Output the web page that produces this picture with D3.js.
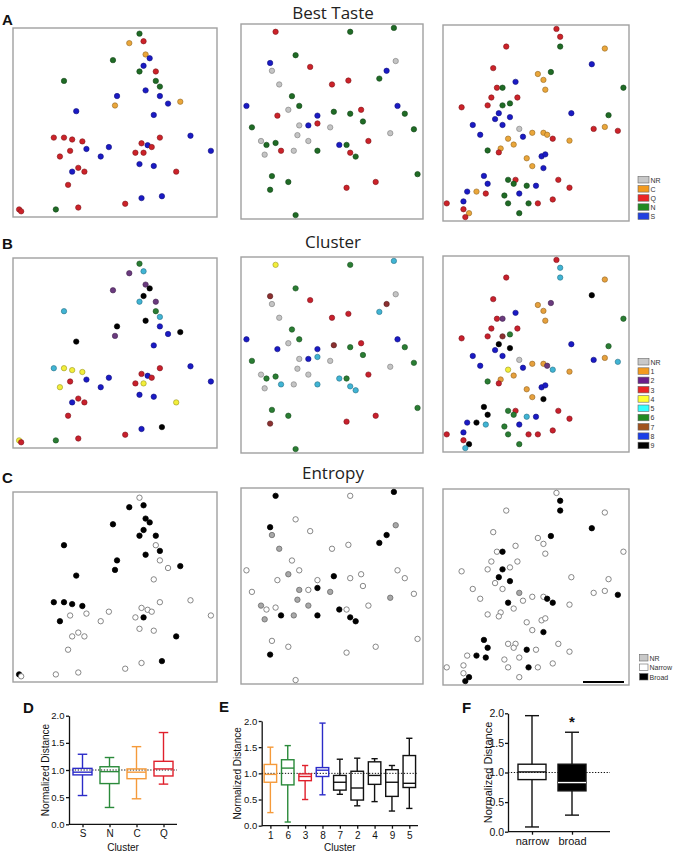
<!DOCTYPE html>
<html><head><meta charset="utf-8">
<script src="https://cdn.jsdelivr.net/npm/d3@7"></script>
<style>body{margin:0;background:#fff;} svg{display:block;font-family:Arial,"Liberation Sans",sans-serif;}</style>
</head><body><svg id="c" width="674" height="853"></svg>
<script>
// ---------- categories ----------
const tasteCats = ["NR","C","Q","N","S"];
const clusterCats = ["NR","1","2","3","4","5","6","7","8","9"];
const entropyCats = ["NR","Narrow","Broad"];
const rowTitles = ["Best Taste","Cluster","Entropy"];

// ---------- column 1 points (arbitrary MDS units, 0-100) ----------
const col1X = [62,57,64,65,67,49,64,62,70,25,70,72,65,51,72,82,76,50,31,69,20,25,29,34,72,87,63,66,68,36,47,28,23,60,64,43,97,62,69,32,29,35,80,27,73,63,55,32,21,3,4];
const col1Y = [97,92,93,86,84,83,80,77,77,72,72,69,67,64,64,61,60,59,56,54,42,42,41,40,42,43,39,38,37,36,37,35,32,34,34,32,35,28,27,26,24,24,24,17,11,10,7,5,4,4,3];
const col1Taste = ["N","C","Q","C","S","N","S","N","Q","N","N","N","S","S","S","C","S","C","S","S","Q","Q","Q","Q","Q","S","Q","S","Q","S","S","Q","Q","Q","Q","S","S","S","S","Q","S","Q","Q","Q","S","S","Q","Q","N","Q","Q"];
const col1Cluster = ["6","2","5","2","9","2","9","5","2","5","6","5","9","9","8","9","8","2","9","8","5","4","4","4","3","8","3","8","3","8","8","3","4","3","4","8","8","8","8","3","8","3","4","3","9","8","3","3","6","4","3"];
const col1Entropy = ["Narrow","Broad","Broad","Broad","Broad","Broad","Broad","Broad","Broad","Broad","Narrow","Broad","Broad","Broad","Narrow","Broad","Narrow","Broad","Broad","Narrow","Broad","Broad","Broad","Broad","Narrow","Narrow","Narrow","Narrow","Narrow","Narrow","Narrow","Narrow","Broad","Narrow","Broad","Narrow","Narrow","Narrow","Narrow","Narrow","Narrow","Narrow","Broad","Narrow","Broad","Narrow","Narrow","Narrow","Narrow","Broad","Narrow"];

// ---------- column 2 points ----------
const col2X = [19,60,84,30,16,85,17,38,80,21,50,59,76,28,3,26,32,42,51,66,86,60,20,90,67,6,32,37,42,49,95,82,31,11,14,19,37,54,58,70,22,29,42,60,63,13,17,97,26,74,58,16,30];
const col2Y = [96,96,98,84,80,81,76,78,76,69,69,71,72,63,58,56,58,53,55,56,58,54,53,54,50,47,48,48,49,47,46,44,43,40,38,39,40,38,38,40,35,35,35,34,32,33,22,23,19,19,16,15,2];
const col2Taste = ["Q","N","N","N","S","NR","NR","Q","S","NR","Q","Q","N","N","S","NR","N","S","N","Q","S","N","Q","N","N","N","NR","S","Q","NR","N","NR","NR","NR","N","N","NR","S","N","Q","Q","NR","N","Q","N","NR","N","N","N","Q","Q","N","N"];
const col2Cluster = ["4","6","5","6","7","NR","NR","3","7","NR","3","3","5","6","8","NR","6","8","7","3","8","6","8","6","6","6","NR","8","5","NR","6","NR","NR","NR","6","6","NR","5","6","3","5","NR","5","5","5","NR","6","6","6","3","3","7","6"];
const col2Entropy = ["Broad","Narrow","Broad","Narrow","Broad","NR","NR","Narrow","Broad","NR","Narrow","Narrow","Broad","Narrow","Narrow","NR","Narrow","Narrow","Broad","Narrow","Narrow","Narrow","Narrow","Narrow","Narrow","Narrow","NR","Narrow","Broad","NR","Narrow","NR","NR","NR","Narrow","Narrow","NR","Broad","Narrow","Narrow","Broad","NR","Broad","Broad","Broad","NR","Narrow","Narrow","Narrow","Narrow","Narrow","Broad","Narrow"];

// ---------- column 3 points ----------
const col3X = [61,63,34,63,87,80,27,58,51,54,39,29,32,55,97,26,40,24,32,36,10,30,28,36,69,89,16,32,41,81,87,94,20,48,54,56,43,35,59,38,68,31,30,24,45,53,55,48,54,22,62,35,39,38,24,45,50,68,13,18,23,41,33,35,46,51,59,11,2,11,14,12,41];
const col3Y = [98,94,89,89,88,80,78,76,75,72,71,68,68,67,68,63,63,59,59,60,58,55,52,53,55,54,49,49,47,47,48,46,44,45,45,44,43,42,42,39,41,37,35,36,32,33,34,28,27,23,21,21,21,19,19,18,18,17,15,15,14,14,13,9,9,9,11,10,9,6,4,2,4];
const col3Taste = ["Q","Q","Q","N","C","S","Q","N","C","C","S","Q","N","C","N","Q","Q","Q","N","N","Q","S","S","S","S","N","S","S","NR","Q","C","Q","S","C","C","C","S","C","Q","C","C","C","Q","N","C","S","S","C","S","S","Q","N","Q","N","S","N","S","Q","S","C","Q","S","N","N","N","Q","Q","S","Q","Q","C","Q","N"];
const col3Cluster = ["3","5","3","5","1","9","3","2","1","1","8","3","2","1","6","3","3","3","7","6","3","9","8","9","8","6","8","8","NR","8","1","5","8","1","1","2","8","4","5","1","1","1","3","6","1","8","8","1","9","9","3","6","3","6","9","5","8","3","8","9","5","8","6","6","3","3","3","8","3","3","9","5","6"];
const col3Entropy = ["Narrow","Broad","Narrow","Broad","Narrow","Broad","Narrow","Broad","Narrow","Narrow","Narrow","Narrow","Broad","Narrow","Narrow","Narrow","Narrow","Narrow","Broad","Narrow","Narrow","Broad","Narrow","Broad","Narrow","Narrow","Narrow","Narrow","NR","Narrow","Narrow","Broad","Narrow","Narrow","Narrow","Broad","Narrow","Broad","Broad","Narrow","Narrow","Narrow","Narrow","Narrow","Narrow","Narrow","Narrow","Narrow","Broad","Broad","Narrow","Narrow","Narrow","Narrow","Broad","Broad","Narrow","Narrow","Narrow","Broad","Broad","Narrow","Narrow","Narrow","Broad","Narrow","Narrow","Narrow","Narrow","Narrow","Broad","Broad","Narrow"];

// ---------- box plots ----------
const dCats = ["S","N","C","Q"];
const dMin = [0.53,0.31,0.47,0.74];
const dQ1  = [0.91,0.75,0.84,0.89];
const dMed = [0.96,0.97,0.96,1.02];
const dQ3  = [1.03,1.06,1.02,1.16];
const dMax = [1.29,1.23,1.43,1.69];

const eCats = ["1","6","3","8","7","2","4","9","5"];
const eMin = [0.25,0.07,0.50,0.59,0.60,0.38,0.46,0.28,0.33];
const eQ1  = [0.83,0.78,0.86,0.94,0.68,0.49,0.79,0.56,0.73];
const eMed = [0.98,1.10,0.94,1.06,0.83,0.72,0.96,0.83,0.81];
const eQ3  = [1.17,1.26,0.99,1.11,0.96,1.04,1.22,1.07,1.34];
const eMax = [1.50,1.53,1.15,1.96,1.27,1.29,1.28,1.15,1.67];

const fCats = ["narrow","broad"];
const fMin = [0.08,0.28];
const fQ1  = [0.88,0.69];
const fMed = [1.01,0.83];
const fQ3  = [1.14,1.14];
const fMax = [1.96,1.68];

const yTicks = [0,0.5,1,1.5,2];

// ---------- colours ----------
const tastePoint = d3.scaleOrdinal().domain(tasteCats).range(["#c4c4c4","#eaa63a","#cc2229","#1f6b25","#1a1ac4"]);
const tasteLegend = d3.scaleOrdinal().domain(tasteCats).range(["#c8c8c8","#f39a1e","#ea2525","#1f8a22","#2040e0"]);
const clusterPoint = d3.scaleOrdinal().domain(clusterCats).range(["#c4c4c4","#e6a03c","#6a3a7e","#c8202c","#f2ee3a","#40b4d4","#2a7d33","#8b3030","#1a1ac4","#000000"]);
const clusterLegend = d3.scaleOrdinal().domain(clusterCats).range(["#c8c8c8","#f39a1e","#6a1f8a","#ea2525","#ffff33","#33ffff","#1f8a22","#a0521e","#1a3ee8","#000000"]);
const entFill = d3.scaleOrdinal().domain(entropyCats).range(["#a8a8a8","#ffffff","#000000"]);
const entLegend = d3.scaleOrdinal().domain(entropyCats).range(["#c8c8c8","#ffffff","#000000"]);
const dColors = ["#2b2bc8","#2a8a3a","#f59a3a","#e0202c"];
const eColors = ["#f59a3a","#2a8a3a","#e0202c","#2b2bc8","#111","#111","#111","#111","#111"];

const svg = d3.select("#c");

// ---------- scatter panels ----------
const cols = [
  {x:col1X,y:col1Y,cat:[col1Taste,col1Cluster,col1Entropy],xr:[13,217],yr:[[28,217],[258,448],[492,682]]},
  {x:col2X,y:col2Y,cat:[col2Taste,col2Cluster,col2Entropy],xr:[241,423],yr:[[24,219],[257,453],[488,684]]},
  {x:col3X,y:col3Y,cat:[col3Taste,col3Cluster,col3Entropy],xr:[443,629],yr:[[25,221],[256,452],[489,685]]}
];
const pointFill = [tastePoint, clusterPoint, entFill];

cols.forEach((c,ci)=>{
  c.yr.forEach((yr,ri)=>{
    const sx = d3.scaleLinear().domain([0,100]).range([c.xr[0],c.xr[1]]);
    const sy = d3.scaleLinear().domain([0,100]).range([yr[1],yr[0]]);
    const g = svg.append("g");
    g.append("rect").attr("x",c.xr[0]).attr("y",yr[0]).attr("width",c.xr[1]-c.xr[0]).attr("height",yr[1]-yr[0])
      .attr("fill","#fff").attr("stroke","#a0a0a0").attr("stroke-width",1.4);
    const data = c.x.map((v,i)=>({x:v,y:c.y[i],k:c.cat[ri][i]}));
    g.selectAll("circle").data(data).join("circle")
      .attr("cx",d=>sx(d.x)).attr("cy",d=>sy(d.y)).attr("r",2.7)
      .attr("fill",d=>pointFill[ri](d.k))
      .attr("stroke",d=>{
        if(ri===2) return d.k==="Broad"?"#000":"#6a6a6a";
        return d3.color(pointFill[ri](d.k)).darker(1.3);
      })
      .attr("stroke-width",d=>ri===2?0.8:0.6);
  });
});

// titles
const titleY = [19,248,479];
rowTitles.forEach((t,i)=>{
  svg.append("text").attr("x",333).attr("y",titleY[i]).attr("text-anchor","middle")
    .attr("font-family","'Open Sans',sans-serif").attr("font-size",17).attr("fill","#222").text(t);
});
// panel letters
[["A",2,25],["B",2,249],["C",2,483],["D",23,713],["E",219,712],["F",462,713]].forEach(([t,x,y])=>{
  svg.append("text").attr("x",x).attr("y",y).attr("font-weight","bold").attr("font-size",15).attr("fill","#111").text(t);
});

// legends
function legend(cats,color,labels,x,y0,dy,w){
  const g = svg.append("g");
  cats.forEach((c,i)=>{
    g.append("rect").attr("x",x).attr("y",y0+i*dy-3.5).attr("width",w).attr("height",6.5)
      .attr("fill",color(c)).attr("stroke","#666").attr("stroke-width",0.6);
    g.append("text").attr("x",x+w+1.5).attr("y",y0+i*dy+2.6).attr("font-size",7).attr("fill","#333").text(labels[i]);
  });
}
legend(tasteCats,tasteLegend,tasteCats,638,180,9.1,11);
legend(clusterCats,clusterLegend,clusterCats,638,362,9.3,11);
legend(entropyCats,entLegend,entropyCats,639.5,658,9.5,8.5);
// scale bar
svg.append("line").attr("x1",583).attr("x2",624).attr("y1",682).attr("y2",682).attr("stroke","#000").attr("stroke-width",2);

// ---------- box plots ----------
function boxPanel(o){
  const y = d3.scaleLinear().domain([0,2]).range([o.y0,o.y1]);
  const x = d3.scalePoint().domain(o.cats).range(o.xr).padding(o.pad);
  const g = svg.append("g");
  g.append("g").attr("transform",`translate(${o.ax},0)`)
    .call(d3.axisLeft(y).tickValues(yTicks).tickFormat(d3.format(".1f")).tickSize(3).tickPadding(o.tp).tickSizeOuter(0))
    .call(s=>{s.selectAll("text").attr("font-size",o.fs).attr("fill","#111").attr("font-family","Arial,'Liberation Sans',sans-serif");
              s.selectAll("path,line").attr("stroke","#111").attr("stroke-width",1.3);});
  g.append("g").attr("transform",`translate(0,${o.y0})`)
    .call(d3.axisBottom(x).tickSize(3).tickSizeOuter(0))
    .call(s=>{s.select(".domain").remove();
              s.selectAll("text").attr("font-size",o.xfs).attr("fill","#111").attr("font-family","Arial,'Liberation Sans',sans-serif");
              s.selectAll("line").attr("stroke","#111").attr("stroke-width",1.3);});
  g.append("line").attr("x1",o.ax).attr("x2",o.xend).attr("y1",o.y0).attr("y2",o.y0).attr("stroke","#111").attr("stroke-width",1.3);
  // dotted reference
  g.append("line").attr("x1",o.ax).attr("x2",o.xend).attr("y1",y(1)).attr("y2",y(1))
    .attr("stroke","#111").attr("stroke-width",1).attr("stroke-dasharray","1.3,1.6");
  o.cats.forEach((c,i)=>{
    const cx = x(c), w = o.bw, col = o.colors[i];
    const fill = o.fills ? o.fills[i] : "none";
    const bg = g.append("g").attr("stroke",col).attr("stroke-width",1.4).attr("fill","none");
    bg.append("line").attr("x1",cx).attr("x2",cx).attr("y1",y(o.max[i])).attr("y2",y(o.q3[i]));
    bg.append("line").attr("x1",cx).attr("x2",cx).attr("y1",y(o.q1[i])).attr("y2",y(o.min[i]));
    bg.append("line").attr("x1",cx-w/4).attr("x2",cx+w/4).attr("y1",y(o.max[i])).attr("y2",y(o.max[i]));
    bg.append("line").attr("x1",cx-w/4).attr("x2",cx+w/4).attr("y1",y(o.min[i])).attr("y2",y(o.min[i]));
    bg.append("rect").attr("x",cx-w/2).attr("width",w).attr("y",y(o.q3[i])).attr("height",y(o.q1[i])-y(o.q3[i])).attr("fill",fill==="none"?"#fff":fill).attr("fill-opacity",fill==="none"?0:1);
    bg.append("line").attr("x1",cx-w/2).attr("x2",cx+w/2).attr("y1",y(o.med[i])).attr("y2",y(o.med[i]))
      .attr("stroke",fill==="none"?col:"#fff");
  });
  // axis labels
  g.append("text").attr("transform",`translate(${o.ylx},${(o.y0+o.y1)/2}) rotate(-90)`).attr("text-anchor","middle")
    .attr("font-size",o.lfs).attr("fill","#111").text("Normalized Distance");
  if(o.xlab) g.append("text").attr("x",(o.ax+o.xend)/2).attr("y",851).attr("text-anchor","middle")
    .attr("font-size",o.lfs).attr("fill","#111").text(o.xlab);
  return {g,x,y};
}
boxPanel({cats:dCats,min:dMin,q1:dQ1,med:dMed,q3:dQ3,max:dMax,colors:dColors,y0:824.3,y1:715.7,ax:69,xr:[69,177],xend:177,pad:0.5,bw:19,fs:9.5,tp:1.5,xfs:10,lfs:10,ylx:48.5,xlab:"Cluster"});
boxPanel({cats:eCats,min:eMin,q1:eQ1,med:eMed,q3:eQ3,max:eMax,colors:eColors,y0:825.7,y1:721,ax:261.7,xr:[261.7,418],xend:418,pad:0.5,bw:12.5,fs:9.5,tp:1.5,xfs:10,lfs:10,ylx:241,xlab:"Cluster"});
const F = boxPanel({cats:fCats,min:fMin,q1:fQ1,med:fMed,q3:fQ3,max:fMax,colors:["#111","#111"],fills:["none","#000"],y0:831.7,y1:713.3,ax:508,xr:[508,596],xend:610,pad:0.6,bw:28,fs:10.5,tp:1,xfs:11,lfs:11,ylx:491.5,xlab:null});
F.g.append("text").attr("x",F.x("broad")).attr("y",F.y(fMax[1])-5).attr("text-anchor","middle").attr("font-size",15).attr("font-weight","bold").attr("fill","#111").text("*");
</script></body></html>
